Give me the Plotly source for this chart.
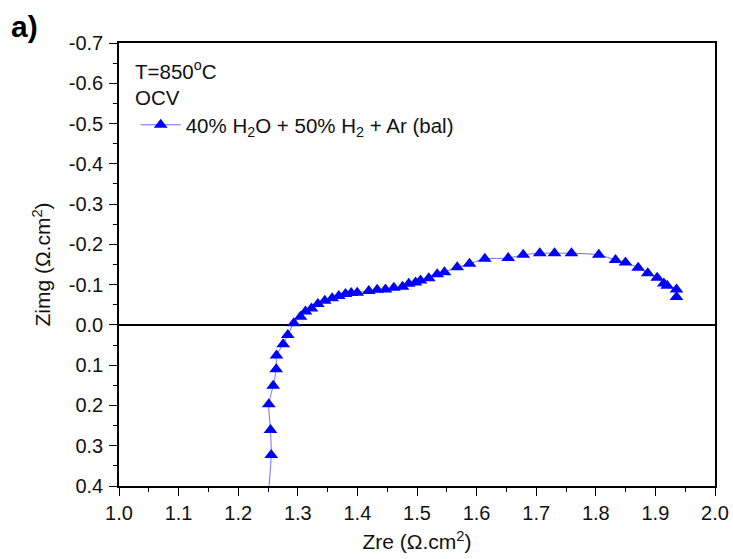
import plotly.graph_objects as go

# Impedance spectrum at OCV, 850 °C (Nyquist plot, Zimg axis reversed)
zre = [1.2495, 1.2554, 1.2542, 1.2513, 1.2587, 1.2638, 1.2643, 1.2755, 1.2832,
       1.2933, 1.3045, 1.3129, 1.3230, 1.3336, 1.3453, 1.3577, 1.3688, 1.3800,
       1.3896, 1.3997, 1.4191, 1.4332, 1.4471, 1.4611, 1.4757, 1.4862, 1.4975,
       1.5059, 1.5198, 1.5339, 1.5461, 1.5675, 1.5881, 1.6138, 1.6530, 1.6782,
       1.7060, 1.7307, 1.7592, 1.8050, 1.8331, 1.8498, 1.8711, 1.8872, 1.9030,
       1.9141, 1.9198, 1.9354, 1.9354]
zimg = [0.440, 0.323, 0.261, 0.197, 0.151, 0.110, 0.076, 0.048, 0.025,
        -0.004, -0.020, -0.033, -0.041, -0.052, -0.060, -0.066, -0.072, -0.077,
        -0.079, -0.080, -0.084, -0.087, -0.088, -0.092, -0.095, -0.102, -0.105,
        -0.110, -0.116, -0.126, -0.131, -0.143, -0.152, -0.164, -0.166, -0.174,
        -0.178, -0.178, -0.178, -0.174, -0.161, -0.155, -0.142, -0.128, -0.117,
        -0.103, -0.097, -0.088, -0.069]

series_name = "40% H<sub>2</sub>O + 50% H<sub>2</sub> + Ar (bal)"

x_ticks = [1.0, 1.1, 1.2, 1.3, 1.4, 1.5, 1.6, 1.7, 1.8, 1.9, 2.0]
x_tick_text = ["1.0", "1.1", "1.2", "1.3", "1.4", "1.5", "1.6", "1.7", "1.8", "1.9", "2.0"]
y_ticks = [-0.7, -0.6, -0.5, -0.4, -0.3, -0.2, -0.1, 0.0, 0.1, 0.2, 0.3, 0.4]
y_tick_text = ["-0.7", "-0.6", "-0.5", "-0.4", "-0.3", "-0.2", "-0.1",
               "0.0", "0.1", "0.2", "0.3", "0.4"]

FONT = "Liberation Sans, Arial, sans-serif"
TEXT_COLOR = "#111"

fig = go.Figure()
fig.add_trace(go.Scatter(
    x=zre, y=zimg, mode="lines+markers", name=series_name,
    line=dict(color="rgb(110,110,255)", width=1, shape="spline", smoothing=0.6),
    marker=dict(symbol="triangle-up", size=12, color="#0000ff",
                line=dict(width=0)),
))

axis_common = dict(
    showline=True, linecolor="black", linewidth=1.5, mirror=True,
    ticks="outside", ticklen=8, tickwidth=1.3, tickcolor="black",
    showgrid=False, automargin=False,
    tickfont=dict(family=FONT, size=20, color=TEXT_COLOR),
    title_font=dict(family=FONT, size=21, color=TEXT_COLOR),
)

fig.update_xaxes(
    range=[1.0, 2.0], tickvals=x_ticks, ticktext=x_tick_text,
    minor=dict(ticks="outside", ticklen=4, tickwidth=1.3, tickcolor="black",
               dtick=0.05, tick0=1.0, showgrid=False),
    title=dict(text="Zre (\u03a9.cm<sup>2</sup>)", standoff=12),
    zeroline=False,
    **axis_common,
)
fig.update_yaxes(
    range=[0.4, -0.7], tickvals=y_ticks, ticktext=y_tick_text,
    minor=dict(ticks="outside", ticklen=4, tickwidth=1.3, tickcolor="black",
               dtick=0.05, tick0=0.0, showgrid=False),
    title=dict(text="Zimg (\u03a9.cm<sup>2</sup>)", standoff=12),
    ticklabelstandoff=2,
    zeroline=True, zerolinecolor="black", zerolinewidth=1.5,
    **axis_common,
)

fig.add_annotation(text="<b>a)</b>", xref="paper", yref="paper",
                   x=-0.185, y=1.038, xanchor="left", yanchor="middle",
                   showarrow=False, font=dict(family=FONT, size=30, color="black"))
fig.add_annotation(text="T=850<sup>o</sup>C", xref="paper", yref="paper",
                   x=0.024, y=0.939, xanchor="left", yanchor="middle",
                   showarrow=False, font=dict(family=FONT, size=20.5, color=TEXT_COLOR))
fig.add_annotation(text="OCV", xref="paper", yref="paper",
                   x=0.024, y=0.877, xanchor="left", yanchor="middle",
                   showarrow=False, font=dict(family=FONT, size=20.5, color=TEXT_COLOR))

fig.update_layout(
    width=733, height=559,
    margin=dict(l=118.5, r=18, t=43, b=73),
    paper_bgcolor="white", plot_bgcolor="white",
    showlegend=True,
    legend=dict(x=0.028, y=0.815, xanchor="left", yanchor="middle",
                bgcolor="rgba(0,0,0,0)", borderwidth=0,
                font=dict(family=FONT, size=20.5, color=TEXT_COLOR),
                itemwidth=40),
    font=dict(family=FONT),
)

fig.write_html("out.html")
